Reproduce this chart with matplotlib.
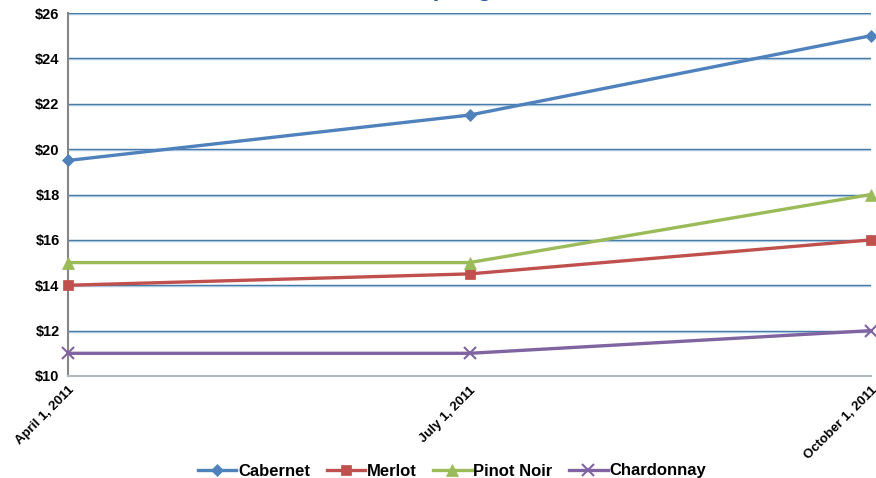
import matplotlib
matplotlib.use('Agg')
import matplotlib.pyplot as plt
import numpy as np

plt.rcParams['font.family'] = ['Liberation Sans', 'DejaVu Sans']
plt.rcParams['font.weight'] = 'bold'

dates = ['April 1, 2011', 'July 1, 2011', 'October 1, 2011']
cabernet = [19.5, 21.5, 25]
merlot = [14, 14.5, 16]
pinot_noir = [15, 15, 18]
chardonnay = [11, 11, 12]
y_ticks = [10, 12, 14, 16, 18, 20, 22, 24, 26]

series = [
    ('Cabernet', cabernet, '#4F81BD', 'D', 6),
    ('Merlot', merlot, '#C0504D', 's', 7),
    ('Pinot Noir', pinot_noir, '#9BBB59', '^', 8),
    ('Chardonnay', chardonnay, '#8064A2', 'x', 8),
]

fig = plt.figure(figsize=(8.76, 4.78), dpi=100)
ax = fig.add_axes([68/876, 1 - 376/478, (871-68)/876, (376-13)/478])

ind = np.arange(len(dates))
for name, vals, col, mk, ms in series:
    ax.plot(ind, vals, color=col, lw=2.4, marker=mk, markersize=ms,
            markeredgewidth=1.5 if mk == 'x' else 0.5, label=name, clip_on=False, zorder=3)

ax.set_xlim(0, 2)
ax.set_ylim(10, 26)
ax.set_yticks(y_ticks)
ax.set_yticklabels(['${}'.format(v) for v in y_ticks], fontsize=10.5, fontweight='bold')
ax.set_xticks(ind)
ax.set_xticklabels(dates, rotation=45, ha='right', rotation_mode='anchor',
                   fontsize=9.5, fontweight='bold')
ax.tick_params(axis='both', length=0, pad=6)

for v in y_ticks[1:]:
    ax.axhline(v, color='#2F6A9A', lw=1.0, zorder=1)
    ax.axhline(v - 0.045, color='#A9C6E0', lw=1.0, zorder=1)

for s in ['top', 'right']:
    ax.spines[s].set_visible(False)
ax.spines['left'].set_color('#868686')
ax.spines['left'].set_linewidth(1.5)
ax.spines['bottom'].set_color('#B0B8C0')
ax.spines['bottom'].set_linewidth(1.5)

# title sits mostly above the top edge, only descenders show
title_y = 1 + 4.5/478
fig.text(419/876, title_y, 'Retail Wine Price', ha='right', va='baseline',
         fontsize=17.5, fontweight='bold', color='#1F5C99')
fig.text(419/876, title_y, ', per glass', ha='left', va='baseline',
         fontsize=17.5, fontweight='bold', color='#1F5C99')

fig.legend(loc='center', bbox_to_anchor=(452/876, 1 - 471/478), ncol=4, frameon=False,
           prop={'size': 12, 'weight': 'bold'}, handlelength=2.3, columnspacing=1.0,
           handletextpad=0.1, borderpad=0, borderaxespad=0)

fig.savefig('out.png', dpi=100)
